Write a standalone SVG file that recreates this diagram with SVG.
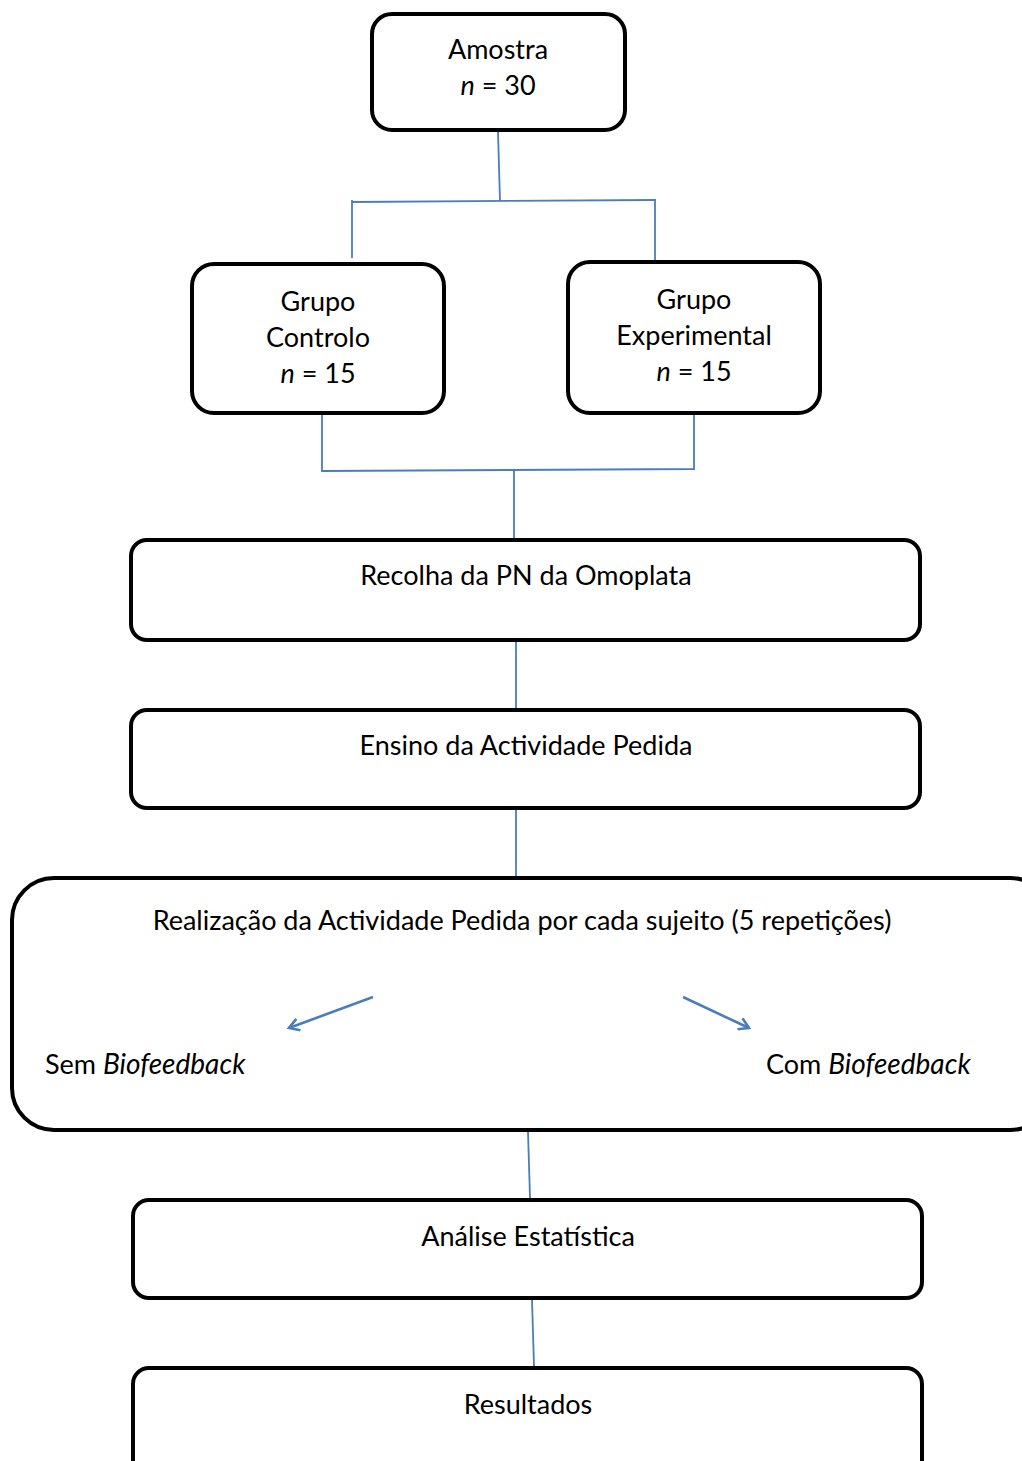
<svg xmlns="http://www.w3.org/2000/svg" width="1022" height="1461" viewBox="0 0 1022 1461">
<style>
.box{fill:#fff;stroke:#000;stroke-width:4}
.t{font-family:Lato,"Liberation Sans",sans-serif;font-size:27px;fill:#000;text-anchor:middle}
.l{font-family:Lato,"Liberation Sans",sans-serif;font-size:27px;fill:#000}
.c{fill:none;stroke:#4a7ebb;stroke-width:1.8}
.a{fill:none;stroke:#4a7ebb;stroke-width:2.6}
</style>
<defs>
<marker id="ah" markerWidth="14" markerHeight="14" refX="11" refY="7" orient="auto" markerUnits="userSpaceOnUse" viewBox="0 0 14 14">
<path d="M1,1 L11,7 L1,13" fill="none" stroke="#4a7ebb" stroke-width="2.6"/>
</marker>
</defs>
<rect width="1022" height="1461" fill="#fff"/>
<g id="amostra">
<rect class="box" x="372" y="14" width="253" height="116" rx="20"/>
<text class="t" x="498" y="58.5">Amostra</text>
<text class="t" x="498" y="94.5"><tspan font-style="italic">n</tspan> = 30</text>
</g>
<g id="controlo">
<rect class="box" x="192" y="264" width="252" height="149" rx="22"/>
<text class="t" x="318" y="310.5">Grupo</text>
<text class="t" x="318" y="346.5">Controlo</text>
<text class="t" x="318" y="382.5"><tspan font-style="italic">n</tspan> = 15</text>
</g>
<g id="experimental">
<rect class="box" x="568" y="262" width="252" height="151" rx="22"/>
<text class="t" x="694" y="308.5">Grupo</text>
<text class="t" x="694" y="344.5">Experimental</text>
<text class="t" x="694" y="380.5"><tspan font-style="italic">n</tspan> = 15</text>
</g>
<g id="recolha">
<rect class="box" x="131" y="540" width="789" height="100" rx="16"/>
<text class="t" x="526" y="584.5">Recolha da PN da Omoplata</text>
</g>
<g id="ensino">
<rect class="box" x="131" y="710" width="789" height="98" rx="16"/>
<text class="t" x="526" y="754.5">Ensino da Actividade Pedida</text>
</g>
<g id="realizacao">
<rect class="box" x="12" y="878" width="1040" height="252" rx="42"/>
<text class="t" x="522" y="929.5">Realização da Actividade Pedida por cada sujeito (5 repetições)</text>
<text class="l" x="45" y="1073.5">Sem <tspan font-style="italic" font-size="28">Biofeedback</tspan></text>
<text class="l" x="766" y="1073.5">Com <tspan font-style="italic" font-size="28">Biofeedback</tspan></text>
</g>
<g id="analise">
<rect class="box" x="133" y="1200" width="789" height="98" rx="16"/>
<text class="t" x="528" y="1245.5">Análise Estatística</text>
</g>
<g id="resultados">
<rect class="box" x="133" y="1368" width="789" height="120" rx="16"/>
<text class="t" x="528" y="1413.5">Resultados</text>
</g>
<g id="connectors">
<path class="c" d="M498,132 L500,201"/>
<path class="c" d="M352,202 L656,200"/>
<path class="c" d="M352,200 L352,258"/>
<path class="c" d="M655,200 L655,260"/>
<path class="c" d="M322,415 L322,471 L694,469 L694,415"/>
<path class="c" d="M514,470 L514,538"/>
<path class="c" d="M516,642 L516,708"/>
<path class="c" d="M516,810 L516,876"/>
<path class="c" d="M528,1132 L530,1198"/>
<path class="c" d="M532,1300 L534,1366"/>
<path class="a" d="M373,997 L289,1028" marker-end="url(#ah)"/>
<path class="a" d="M683,997 L749,1028" marker-end="url(#ah)"/>
</g>
</svg>
